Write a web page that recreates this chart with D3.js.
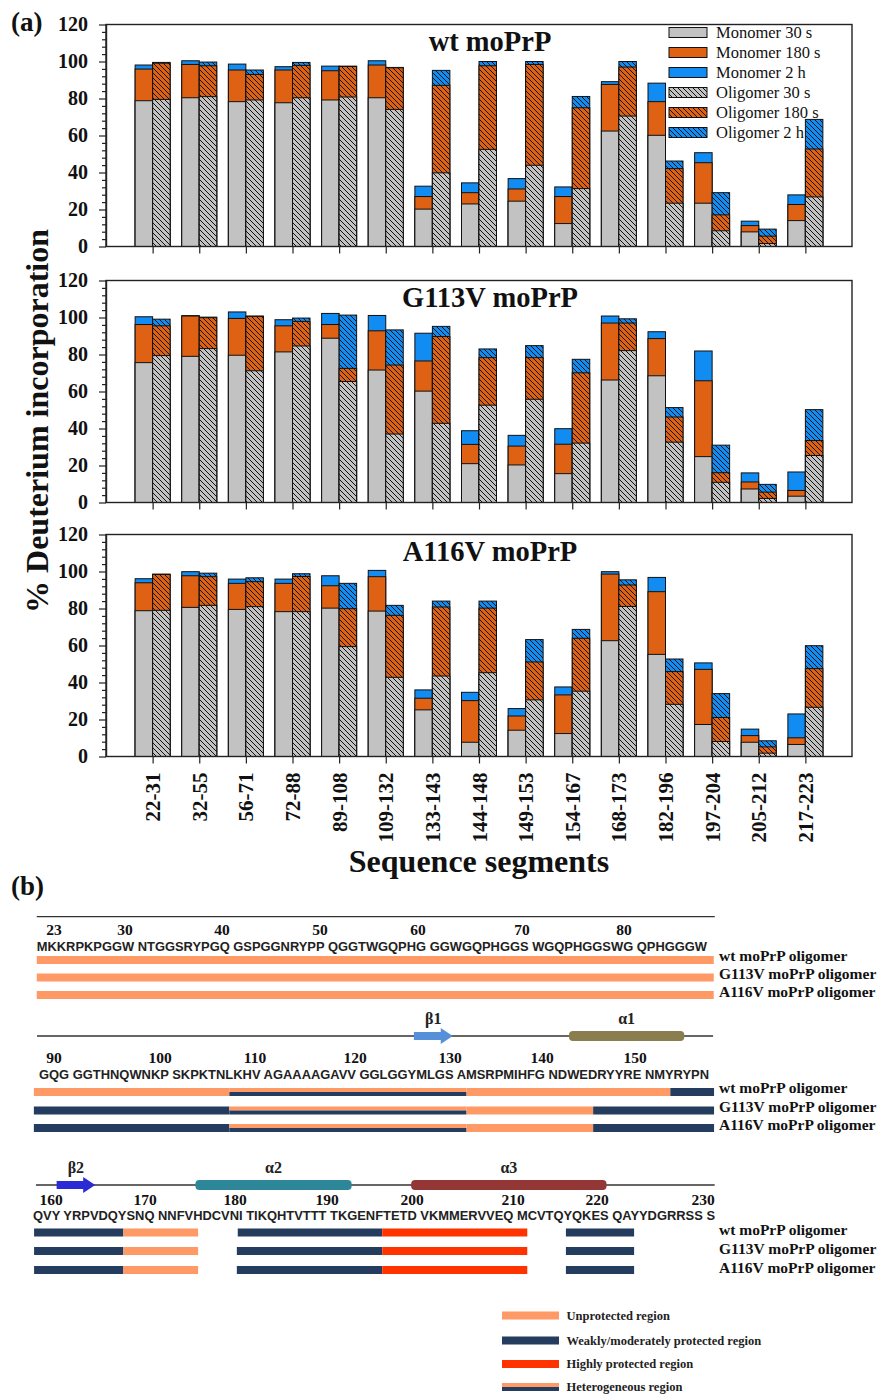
<!DOCTYPE html>
<html><head><meta charset="utf-8">
<script src="https://cdn.jsdelivr.net/npm/d3@7"></script>
<style>body{margin:0;background:#fff}</style>
</head><body>
<svg id="c" width="880" height="1395" xmlns="http://www.w3.org/2000/svg"></svg>
<script>
// ---------- DATA (panel a) ----------
const segments = ["22-31","32-55","56-71","72-88","89-108","109-132","133-143","144-148","149-153","154-167","168-173","182-196","197-204","205-212","217-223"];
const panelTitles = ["wt moPrP","G113V moPrP","A116V moPrP"];
const seriesNames = ["Monomer 30 s","Monomer 180 s","Monomer 2 h","Oligomer 30 s","Oligomer 180 s","Oligomer 2 h"];
const yTickValues = [0,20,40,60,80,100,120];

const wtMono30   = [78.8,80.4,78.3,77.7,79.2,80.4,20.2,23.0,24.5,12.4,62.4,60.1,23.4,7.9,14.0];
const wtMono180  = [95.9,98.4,95.4,95.4,95.0,98.1,27.0,29.1,31.1,27.0,87.6,78.3,45.3,11.3,22.7];
const wtMono2h   = [98.1,100.4,98.6,97.2,97.5,100.4,32.6,34.4,36.7,32.2,89.1,88.3,50.7,13.7,27.9];
const wtOligo30  = [79.5,81.0,79.2,80.4,80.8,74.1,39.8,52.5,43.9,31.3,70.5,23.4,8.5,1.6,26.8];
const wtOligo180 = [99.1,97.7,93.0,97.9,97.3,96.6,87.1,97.7,98.4,75.0,97.0,42.1,17.1,5.6,52.7];
const wtOligo2h  = [99.5,99.7,95.4,99.5,97.5,96.8,95.2,100.0,100.0,81.1,100.0,46.2,29.1,9.4,68.7];

const g113Mono30   = [75.6,79.0,79.6,81.4,88.8,71.6,60.2,21.0,20.3,15.6,66.2,68.5,24.8,7.3,3.4];
const g113Mono180  = [96.2,100.8,99.5,95.5,96.2,92.8,76.5,31.4,30.5,31.5,97.0,88.6,65.8,11.1,6.5];
const g113Mono2h   = [100.4,101.0,103.0,98.8,102.2,101.1,91.5,38.8,36.3,39.9,100.8,92.3,81.9,16.0,16.5];
const g113Oligo30  = [79.4,83.2,71.2,84.6,65.4,37.0,42.8,52.6,55.8,32.1,82.1,32.6,10.9,2.2,25.4];
const g113Oligo180 = [95.5,99.9,100.6,97.9,72.5,74.3,89.7,78.3,78.3,70.1,97.0,46.2,16.1,5.6,33.5];
const g113Oligo2h  = [99.1,100.2,100.8,99.7,101.3,93.3,95.2,83.0,84.8,77.4,99.3,51.3,31.0,9.8,50.2];

const a116Mono30   = [78.8,80.6,79.5,78.3,80.2,78.6,25.2,7.7,14.2,12.4,62.6,55.2,17.3,7.7,6.5];
const a116Mono180  = [93.9,97.7,93.6,93.6,92.3,97.2,31.5,30.2,21.9,33.3,98.6,89.1,47.1,11.3,10.1];
const a116Mono2h   = [96.1,99.9,95.9,95.9,97.7,100.6,36.0,34.7,25.9,37.6,99.9,96.8,50.6,14.8,23.0];
const a116Oligo30  = [79.0,81.7,81.0,78.3,59.4,42.8,43.5,45.3,30.6,35.3,81.1,28.2,8.1,1.8,26.6];
const a116Oligo180 = [98.4,97.2,94.5,97.3,79.9,76.3,80.8,80.2,51.1,63.9,92.7,45.9,21.1,5.2,47.5];
const a116Oligo2h  = [98.6,99.1,96.6,98.8,93.6,81.7,84.0,84.0,63.2,68.7,95.5,52.7,34.0,8.5,59.9];

// ---------- DATA (panel b) ----------
const rowNumbers1 = [23,30,40,50,60,70,80];
const rowNumbers2 = [90,100,110,120,130,140,150];
const rowNumbers3 = [160,170,180,190,200,210,220,230];
const sequence1 = "MKKRPKPGGW NTGGSRYPGQ GSPGGNRYPP QGGTWGQPHG GGWGQPHGGS WGQPHGGSWG QPHGGGW";
const sequence2 = "GQG GGTHNQWNKP SKPKTNLKHV AGAAAAGAVV GGLGGYMLGS AMSRPMIHFG NDWEDRYYRE NMYRYPN";
const sequence3 = "QVY YRPVDQYSNQ NNFVHDCVNI TIKQHTVTTT TKGENFTETD VKMMERVVEQ MCVTQYQKES QAYYDGRRSS S";
const oligomerLabels = ["wt moPrP oligomer","G113V moPrP oligomer","A116V moPrP oligomer"];
const regionNames = ["Unprotected region","Weakly/moderately protected region","Highly protected region","Heterogeneous region"];
// protection segments: [startResidue, endResidue, type] (u=unprotected, w=weak, h=highly, x=heterogeneous)
const protRow1 = [[[21.3,88.8,"u"]],[[21.3,88.8,"u"]],[[21.3,88.8,"u"]]];
const protRow2 = [
  [[88.1,107.3,"u"],[107.3,131.8,"x"],[131.8,153.8,"u"],[153.8,158.5,"w"]],
  [[88.1,107.3,"w"],[107.3,131.8,"x"],[131.8,145.5,"u"],[145.5,158.5,"w"]],
  [[88.1,107.3,"w"],[107.3,131.8,"x"],[131.8,145.5,"u"],[145.5,158.5,"w"]]
];
const protRow3 = [
  [[158.2,167.7,"w"],[167.7,175.9,"u"],[180.3,196.5,"w"],[196.5,211.7,"h"],[216.3,223.5,"w"]],
  [[158.2,167.7,"w"],[167.7,175.9,"u"],[180.2,196.5,"w"],[196.5,211.7,"h"],[216.3,223.5,"w"]],
  [[158.2,167.7,"w"],[167.7,175.9,"u"],[180.2,196.5,"w"],[196.5,211.7,"h"],[216.3,223.5,"w"]]
];
// secondary structure: [name, start, end, kind]
const struct2 = [["β1",126.2,130.3,"strand"],["α1",142.9,155.3,"helix"]];
const struct3 = [["β2",160.6,164.7,"strand"],["α2",175.6,192.9,"helix"],["α3",199.9,220.9,"helix"]];

// ---------- STYLE ----------
const C = {grey:"#c2c2c2", orange:"#de6114", blue:"#108cf2",
  unprot:"#ff9966", weak:"#243d5e", high:"#ff3300",
  b1:"#5590d8", a1:"#8a7d4e", b2:"#2b2bd6", a2:"#2e8798", a3:"#933636"};
const serif = "'Liberation Serif','Times New Roman',serif";
const sans = "'Liberation Sans',Arial,sans-serif";

const svg = d3.select("#c");
const defs = svg.append("defs");
[["hgrey",C.grey],["horange",C.orange],["hblue",C.blue]].forEach(([id,col])=>{
  const p = defs.append("pattern").attr("id",id).attr("patternUnits","userSpaceOnUse")
    .attr("width",5).attr("height",5);
  p.append("rect").attr("width",5).attr("height",5).attr("fill",col);
  p.append("path").attr("d","M-1,-1L6,6M-1,4L1,6M4,-1L6,1").attr("stroke","#111").attr("stroke-width",1);
});

// ---------- PANEL A ----------
const x = d3.scaleLinear().domain([0,16]).range([106,852]);
const barW = 17.5;
const panelBottoms = [246.5,502.5,756.5];
const panelH = 222;
const panelData = [
  [wtMono30,wtMono180,wtMono2h,wtOligo30,wtOligo180,wtOligo2h],
  [g113Mono30,g113Mono180,g113Mono2h,g113Oligo30,g113Oligo180,g113Oligo2h],
  [a116Mono30,a116Mono180,a116Mono2h,a116Oligo30,a116Oligo180,a116Oligo2h]
];
const fills = [C.grey,C.orange,C.blue,"url(#hgrey)","url(#horange)","url(#hblue)"];

panelData.forEach((series,pi)=>{
  const yb = panelBottoms[pi];
  const y = d3.scaleLinear().domain([0,120]).range([yb,yb-panelH]);
  const g = svg.append("g");
  // bars: draw 2h, then 180 s, then 30 s (cumulative)
  [[2,1,0,-1],[5,4,3,0]].forEach(([s2,s1,s0,off])=>{
    [s2,s1,s0].forEach(si=>{
      g.selectAll(null).data(series[si]).enter().append("rect")
        .attr("x",(d,i)=>x(i+1)+off*barW)
        .attr("width",barW)
        .attr("y",d=>y(d)).attr("height",d=>y(0)-y(d))
        .attr("fill",fills[si]).attr("stroke","#111").attr("stroke-width",1);
    });
  });
  // frame
  svg.append("rect").attr("x",x(0)).attr("y",y(120)).attr("width",x(16)-x(0)).attr("height",y(0)-y(120))
    .attr("fill","none").attr("stroke","#222").attr("stroke-width",1.4);
  // y axis
  const ya = svg.append("g").attr("transform",`translate(${x(0)},0)`)
    .call(d3.axisLeft(y).tickValues(yTickValues).tickSize(7).tickSizeOuter(0).tickPadding(11));
  svg.append("g").attr("transform",`translate(${x(0)},0)`)
    .call(d3.axisLeft(y).tickValues(d3.range(0,121,4).filter(v=>v%20)).tickSize(4).tickSizeOuter(0).tickFormat(""))
    .call(a=>a.select(".domain").remove());
  ya.selectAll("text").attr("font-family",serif).attr("font-weight","bold").attr("font-size",20).attr("fill","#111");
  svg.selectAll(".tick line").attr("stroke","#222").attr("stroke-width",1.2);
  ya.select(".domain").attr("stroke","#222").attr("stroke-width",1.4);
  // x axis
  const xa = svg.append("g").attr("transform",`translate(0,${yb})`)
    .call(d3.axisBottom(x).tickValues(d3.range(1,16)).tickSize(7).tickSizeOuter(0)
      .tickFormat(pi===2 ? (d=>segments[d-1]) : ""));
  xa.select(".domain").remove();
  xa.selectAll("line").attr("stroke","#222").attr("stroke-width",1.2);
  if(pi===2){
    xa.selectAll("text").attr("font-family",serif).attr("font-weight","bold").attr("font-size",21)
      .attr("fill","#111").attr("text-anchor","end").attr("dy",null).attr("y",null)
      .attr("transform","translate(7,16) rotate(-90)");
  }
  // title
  svg.append("text").attr("x",490).attr("y",yb-panelH+26).attr("text-anchor","middle")
    .attr("font-family",serif).attr("font-weight","bold").attr("font-size",28.5).attr("fill","#111")
    .text(panelTitles[pi]);
});

// legend panel a
const lg = svg.append("g");
seriesNames.forEach((n,i)=>{
  lg.append("rect").attr("x",669).attr("y",27.5+i*20).attr("width",38).attr("height",10)
    .attr("fill",fills[i]).attr("stroke","#111").attr("stroke-width",1);
  lg.append("text").attr("x",716).attr("y",38+i*20).attr("font-family",serif).attr("font-size",16.5)
    .attr("fill","#111").text(n);
});

// labels panel a
svg.append("text").attr("transform","translate(48,421) rotate(-90)").attr("text-anchor","middle")
  .attr("font-family",serif).attr("font-weight","bold").attr("font-size",32).attr("fill","#111")
  .text("% Deuterium incorporation");
svg.append("text").attr("x",479).attr("y",872).attr("text-anchor","middle")
  .attr("font-family",serif).attr("font-weight","bold").attr("font-size",32).attr("fill","#111")
  .text("Sequence segments");
svg.append("text").attr("x",11).attr("y",31).attr("font-family",serif).attr("font-weight","bold")
  .attr("font-size",27).attr("fill","#111").text("(a)");
svg.append("text").attr("x",11).attr("y",895).attr("font-family",serif).attr("font-weight","bold")
  .attr("font-size",27).attr("fill","#111").text("(b)");

// ---------- PANEL B ----------
const rows = [
  {nums:rowNumbers1, range:[54,125,222,320,418,522,624], seq:sequence1, seqX:[36.7,707], line:[21.3,88.9],
   lineY:916.7, numY:935, seqY:950.5, barY:[956,973.5,991], labY:[961,979,997], prot:protRow1, struct:[], structY:0},
  {nums:rowNumbers2, range:[54,160,255,355,450,542,635], seq:sequence2, seqX:[39,709], line:[88.4,158.4],
   lineY:1036, numY:1063, seqY:1079, barY:[1088,1106.5,1124], labY:[1093,1112,1130], prot:protRow2, struct:struct2, structY:1036},
  {nums:rowNumbers3, range:[51,145,235,327,412,513,597,703], seq:sequence3, seqX:[33,715], line:[158.4,231.1],
   lineY:1185, numY:1205, seqY:1220, barY:[1228.5,1247,1266], labY:[1235,1254,1273], prot:protRow3, struct:struct3, structY:1185}
];
const typeCol = {u:C.unprot, w:C.weak, h:C.high};
const structCol = {"β1":C.b1,"α1":C.a1,"β2":C.b2,"α2":C.a2,"α3":C.a3};
const bH = 8;
rows.forEach(r=>{
  const s = d3.scaleLinear().domain(r.nums).range(r.range);
  const g = svg.append("g");
  g.append("line").attr("x1",s(r.line[0])).attr("x2",s(r.line[1])).attr("y1",r.lineY).attr("y2",r.lineY)
    .attr("stroke","#333").attr("stroke-width",1.3);
  // structure
  r.struct.forEach(([nm,a,b,k])=>{
    const x0=s(a), x1=s(b), yc=r.structY;
    if(k==="helix"){
      g.append("rect").attr("x",x0).attr("y",yc-5).attr("width",x1-x0).attr("height",10).attr("rx",4)
        .attr("fill",structCol[nm]);
    } else {
      const hx = x1-12;
      g.append("path").attr("d",`M${x0},${yc-4}L${hx},${yc-4}L${hx},${yc-8}L${x1},${yc}L${hx},${yc+8}L${hx},${yc+4}L${x0},${yc+4}Z`)
        .attr("fill",structCol[nm]);
    }
    g.append("text").attr("x",(x0+x1)/2).attr("y",yc-12).attr("text-anchor","middle")
      .attr("font-family",serif).attr("font-weight","bold").attr("font-size",16).attr("fill","#222").text(nm);
  });
  // numbers
  r.nums.forEach(n=>{
    g.append("text").attr("x",s(n)).attr("y",r.numY).attr("text-anchor","middle")
      .attr("font-family",serif).attr("font-weight","bold").attr("font-size",15.5).attr("fill","#111").text(n);
  });
  // sequence
  g.append("text").attr("x",r.seqX[0]).attr("y",r.seqY).attr("textLength",r.seqX[1]-r.seqX[0])
    .attr("lengthAdjust","spacingAndGlyphs")
    .attr("font-family",sans).attr("font-weight","bold").attr("font-size",13.5).attr("fill","#222").text(r.seq);
  // protection bars
  r.prot.forEach((segs,ri)=>{
    const by = r.barY[ri];
    segs.forEach(([a,b,t])=>{
      if(t==="x"){
        g.append("rect").attr("x",s(a)).attr("y",by).attr("width",s(b)-s(a)).attr("height",bH/2).attr("fill",C.unprot);
        g.append("rect").attr("x",s(a)).attr("y",by+bH/2).attr("width",s(b)-s(a)).attr("height",bH/2).attr("fill",C.weak);
      } else {
        g.append("rect").attr("x",s(a)).attr("y",by).attr("width",s(b)-s(a)).attr("height",bH).attr("fill",typeCol[t]);
      }
    });
    g.append("text").attr("x",719).attr("y",r.labY[ri]).attr("font-family",serif).attr("font-weight","bold")
      .attr("font-size",15.5).attr("fill","#111").text(oligomerLabels[ri]);
  });
});

// legend panel b
const lb = svg.append("g");
const legTypes = ["u","w","h","x"];
regionNames.forEach((n,i)=>{
  const yy = [1311.5,1336.5,1360,1383][i];
  if(legTypes[i]==="x"){
    lb.append("rect").attr("x",502).attr("y",yy).attr("width",57).attr("height",4).attr("fill",C.unprot);
    lb.append("rect").attr("x",502).attr("y",yy+4).attr("width",57).attr("height",4).attr("fill",C.weak);
  } else {
    lb.append("rect").attr("x",502).attr("y",yy).attr("width",57).attr("height",8).attr("fill",typeCol[legTypes[i]]);
  }
  lb.append("text").attr("x",566.5).attr("y",yy+8).attr("font-family",serif).attr("font-weight","bold")
    .attr("font-size",12.5).attr("fill","#222").text(n);
});
</script>
</body></html>
